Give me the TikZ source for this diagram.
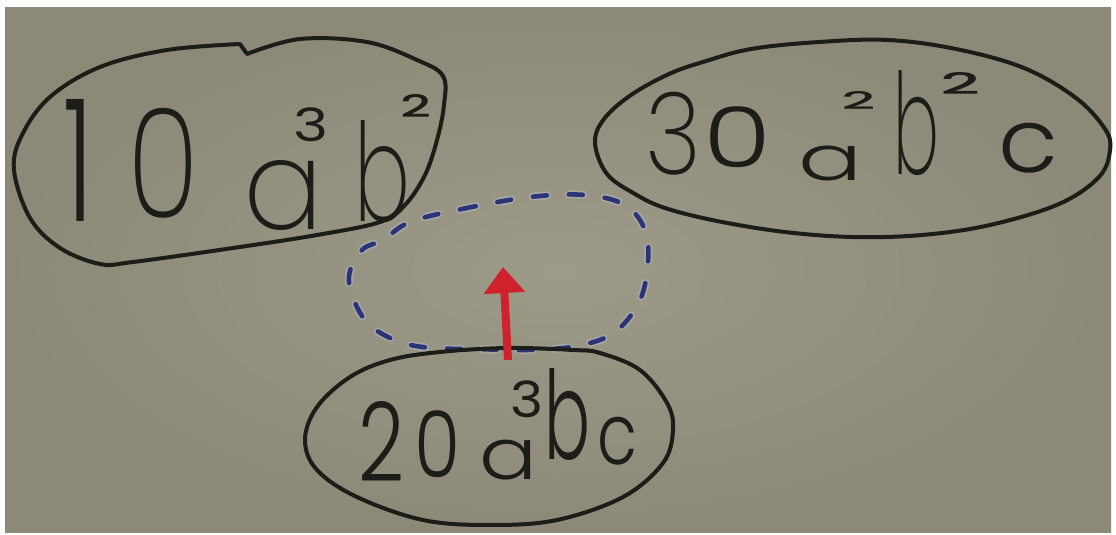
\documentclass[tikz,border=0pt]{standalone}
\usepackage{fontspec}
\usepackage{graphicx}
\usetikzlibrary{arrows.meta}
% marker lettering in several pen weights
\IfFontExistsTF{Poppins ExtraLight}{\newfontfamily\fX{Poppins ExtraLight}}{\newfontfamily\fX{Poppins}}
\IfFontExistsTF{Poppins Light}{\newfontfamily\fL{Poppins Light}}{\newfontfamily\fL{Poppins}}
\newfontfamily\fR{Poppins}
\IfFontExistsTF{Poppins Medium}{\newfontfamily\fM{Poppins Medium}}{\newfontfamily\fM{Poppins}}

\definecolor{boardedge}{RGB}{140,137,121}
\definecolor{boardmid}{RGB}{158,154,136}
\definecolor{ink}{RGB}{28,28,24}
\definecolor{bluemark}{RGB}{42,52,118}
\definecolor{bluehalo}{RGB}{180,186,200}
\definecolor{redmark}{RGB}{208,34,44}

% one unit = one pixel of the 1116 x 535 sheet
\newlength\pu \setlength\pu{0.5pt}
% \hw{font}{x}{lift}{w}{h}{glyph}: glyph scaled to w x h, centred x units right of
% the term's origin, its foot lifted by "lift" units above the term's baseline
\newcommand\hw[6]{\rlap{\kern#2\pu\makebox[0pt]{\raisebox{#3\pu}{\resizebox*{#4\pu}{#5\pu}{#1#6}}}}}

\tikzset{
  outline/.style={draw=ink, line width=2pt, line cap=round, line join=round},
  term/.style={inner sep=0pt, anchor=base west, text=ink},
  dashring/.style={draw=bluemark, line width=2.3pt, line cap=round, dash pattern=on 7pt off 11pt},
  dashhalo/.style={draw=bluehalo, line width=4pt, line cap=round, dash pattern=on 7pt off 11pt, opacity=.5},
  pointer/.style={draw=redmark, line width=4pt, -{Triangle[width=20pt,length=13pt]}}
}

\begin{document}
\begin{tikzpicture}[x=0.5pt, y=-0.5pt]
  \useasboundingbox (0,0) rectangle (1116,535);
  \fill[white] (0,0) rectangle (1116,535);
  \shade[inner color=boardmid, outer color=boardedge] (5,8) rectangle (1111,532);

  % dashed target ring
  \coordinate (ring) at (498,272);
  \path[dashhalo] plot[smooth cycle, tension=0.6] coordinates {
    (410,222) (462,209) (530,197) (585,195) (625,205) (645,230) (648,262)
    (640,300) (615,332) (577,346) (525,350) (475,349) (432,348) (400,342)
    (372,327) (356,305) (349,276) (362,250) (383,240)};
  \path[dashring] plot[smooth cycle, tension=0.6] coordinates {
    (410,222) (462,209) (530,197) (585,195) (625,205) (645,230) (648,262)
    (640,300) (615,332) (577,346) (525,350) (475,349) (432,348) (400,342)
    (372,327) (356,305) (349,276) (362,250) (383,240)};

  % left term
  \node[term] (t1) at (60,220) {%
    \hw{\fL}{18}{-2}{30}{122}{1}%
    \hw{\fX}{103}{3}{72}{110}{0}%
    \hw{\fX}{223}{-10}{80}{70}{a}%
    \hw{\fR}{251}{78}{35}{34}{3}%
    \hw{\fX}{322}{-2}{56}{102}{b}%
    \hw{\fM}{356}{102}{31}{23}{2}%
    \kern380\pu};
  \path[outline] plot[smooth, tension=0.6] coordinates {
    (247,54) (300,39) (367,42) (417,60) (443,76) (444,105) (437,140)
    (425,175) (405,205) (380,222) (317,235) (233,248) (133,262) (100,264)
    (60,248) (30,218) (14,170) (22,135) (50,97) (100,67) (167,50) (240,44)}
    -- cycle;

  % right term
  \node[term] (t2) at (640,175) {%
    \hw{\fX}{33}{0}{56}{83}{3}%
    \hw{\fL}{97}{7}{68}{61}{0}%
    \hw{\fL}{190}{-5}{64}{35}{a}%
    \hw{\fM}{218}{65}{34}{18}{2}%
    \hw{\fX}{276}{0}{46}{105}{b}%
    \hw{\fM}{320}{80}{40}{22}{2}%
    \hw{\fL}{388}{3}{60}{50}{c}%
    \kern420\pu};
  \path[outline] plot[smooth cycle, tension=0.6] coordinates {
    (703,62) (751,49) (819,42) (888,40) (956,49) (1024,68) (1076,98)
    (1105,129) (1110,150) (1099,177) (1059,204) (990,225) (922,235)
    (853,237) (785,232) (717,221) (665,208) (635,194) (607,174) (595,143)
    (604,119) (631,95) (669,74)};

  % bottom term
  \node[term] (t3) at (350,480) {%
    \hw{\fL}{31}{-2}{46}{80}{2}%
    \hw{\fL}{87}{3}{46}{67}{0}%
    \hw{\fL}{158}{0}{58}{40}{a}%
    \hw{\fR}{177}{63}{33}{37}{3}%
    \hw{\fL}{217}{20}{46}{92}{b}%
    \hw{\fL}{267}{15}{40}{48}{c}%
    \kern290\pu};
  \path[outline] plot[smooth cycle, tension=0.6] coordinates {
    (600,353) (640,370) (667,403) (673,430) (663,463) (623,497) (557,520)
    (490,525) (423,520) (357,497) (317,470) (305,440) (317,407) (350,377)
    (390,360) (440,352) (507,348) (573,350)};

  % red pointer from the bottom term up into the ring
  \coordinate (foot) at (508,360);
  \coordinate (tip) at (503,267);
  \draw[pointer] (foot) -- (tip);
\end{tikzpicture}
\end{document}
